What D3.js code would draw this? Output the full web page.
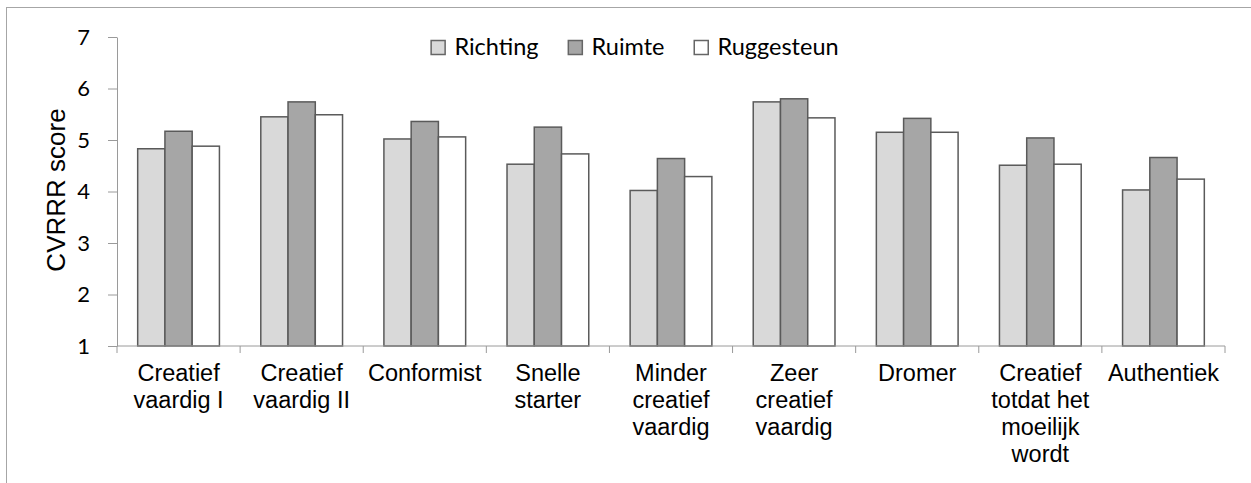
<!DOCTYPE html>
<html>
<head>
<meta charset="utf-8">
<script src="https://cdn.jsdelivr.net/npm/d3@7"></script>
<style>
  html, body { margin: 0; padding: 0; background: #fff; }
  svg { display: block; }
</style>
</head>
<body>
<div id="chart"></div>
<script>
const categories = [
  ["Creatief", "vaardig I"],
  ["Creatief", "vaardig II"],
  ["Conformist"],
  ["Snelle", "starter"],
  ["Minder", "creatief", "vaardig"],
  ["Zeer", "creatief", "vaardig"],
  ["Dromer"],
  ["Creatief", "totdat het", "moeilijk", "wordt"],
  ["Authentiek"]
];
const seriesNames = ["Richting", "Ruimte", "Ruggesteun"];
const richting = [4.83, 5.45, 5.02, 4.53, 4.02, 5.74, 5.15, 4.51, 4.03];
const ruimte = [5.17, 5.74, 5.36, 5.25, 4.64, 5.80, 5.42, 5.04, 4.66];
const ruggesteun = [4.88, 5.49, 5.06, 4.73, 4.29, 5.43, 5.15, 4.53, 4.24];
const yTicks = [1, 2, 3, 4, 5, 6, 7];

const seriesColors = {
  "Richting": "#d9d9d9",
  "Ruimte": "#a6a6a6",
  "Ruggesteun": "#ffffff"
};

const width = 1251;
const height = 483;
const margin = { top: 37, right: 26, bottom: 137, left: 117 };
const plotW = width - margin.left - margin.right;
const plotH = height - margin.top - margin.bottom;

const svg = d3.select("#chart")
  .append("svg")
  .attr("width", width)
  .attr("height", height);

// chart area border (only top/left visible in the frame)
svg.append("rect")
  .attr("x", 6.5)
  .attr("y", 7.5)
  .attr("width", width + 20)
  .attr("height", height + 20)
  .attr("fill", "none")
  .attr("stroke", "#a6a6a6")
  .attr("stroke-width", 1);

const g = svg.append("g")
  .attr("transform", `translate(${margin.left},${margin.top})`);

const keys = categories.map(c => c.join(" "));
const rows = keys.map((k, i) => ({
  key: k,
  lines: categories[i],
  values: [richting[i], ruimte[i], ruggesteun[i]]
}));

const x0 = d3.scaleBand()
  .domain(keys)
  .range([0, plotW]);

const gap = x0.bandwidth() * 0.168;
const x1 = d3.scaleBand()
  .domain(seriesNames)
  .range([gap, x0.bandwidth() - gap]);

const y = d3.scaleLinear()
  .domain([1, 7])
  .range([plotH, 0]);

// y axis
const yAxis = g.append("g")
  .call(d3.axisLeft(y).tickValues(yTicks).tickSize(9).tickSizeOuter(0).tickPadding(18).tickFormat(d3.format("d")));

yAxis.selectAll(".domain, .tick line")
  .attr("stroke", "#9a9a9a");

yAxis.selectAll(".tick text")
  .attr("fill", "#000")
  .style("font-family", "Lato, sans-serif")
  .style("font-size", "22px");

// bars
const groups = g.selectAll(".cat")
  .data(rows)
  .enter()
  .append("g")
  .attr("class", "cat")
  .attr("transform", d => `translate(${x0(d.key)},0)`);

groups.selectAll("rect")
  .data(d => d.values.map((v, i) => ({ name: seriesNames[i], value: v })))
  .enter()
  .append("rect")
  .attr("x", d => x1(d.name))
  .attr("y", d => y(d.value))
  .attr("width", x1.bandwidth())
  .attr("height", d => plotH - y(d.value))
  .attr("fill", d => seriesColors[d.name])
  .attr("stroke", "#5a5a5a")
  .attr("stroke-width", 1.5);

// x axis: baseline with ticks at category boundaries
const xAxis = g.append("g").attr("transform", `translate(0,${plotH})`);

xAxis.append("line")
  .attr("x1", 0)
  .attr("x2", plotW)
  .attr("stroke", "#9a9a9a");

const boundaries = keys.map(k => x0(k)).concat([x0(keys[keys.length - 1]) + x0.bandwidth()]);
xAxis.selectAll(".bt")
  .data(boundaries)
  .enter()
  .append("line")
  .attr("class", "bt")
  .attr("x1", d => d)
  .attr("x2", d => d)
  .attr("y1", 0)
  .attr("y2", 7)
  .attr("stroke", "#9a9a9a");

const labels = xAxis.selectAll(".lbl")
  .data(rows)
  .enter()
  .append("text")
  .attr("class", "lbl")
  .attr("text-anchor", "middle")
  .attr("transform", d => `translate(${x0(d.key) + x0.bandwidth() / 2},35)`)
  .style("font-family", "'Liberation Sans', Arial, sans-serif")
  .style("font-size", "23.5px")
  .attr("fill", "#000");

labels.selectAll("tspan")
  .data(d => d.lines)
  .enter()
  .append("tspan")
  .attr("x", 0)
  .attr("y", (_, i) => i * 27)
  .text(t => t);

// y axis title
svg.append("text")
  .attr("transform", `translate(65,190) rotate(-90)`)
  .attr("text-anchor", "middle")
  .style("font-family", "'Liberation Sans', Arial, sans-serif")
  .style("font-size", "26px")
  .attr("fill", "#000")
  .text("CVRRR score");

// legend
const legend = svg.append("g");
let lx = 0;
seriesNames.forEach((name, i) => {
  const item = legend.append("g").attr("transform", `translate(${lx},0)`);
  item.append("rect")
    .attr("x", 0.75)
    .attr("y", 40.5)
    .attr("width", 14)
    .attr("height", 14)
    .attr("fill", seriesColors[name])
    .attr("stroke", "#666")
    .attr("stroke-width", 1.5);
  const t = item.append("text")
    .attr("x", 24)
    .attr("y", 55)
    .style("font-family", "Lato, sans-serif")
    .style("font-size", "23.5px")
    .attr("fill", "#000")
    .text(name);
  lx += 24 + t.node().getComputedTextLength() + 29;
});
const legendW = lx - 29;
legend.attr("transform", `translate(${634.5 - legendW / 2},0)`);
</script>
</body>
</html>
